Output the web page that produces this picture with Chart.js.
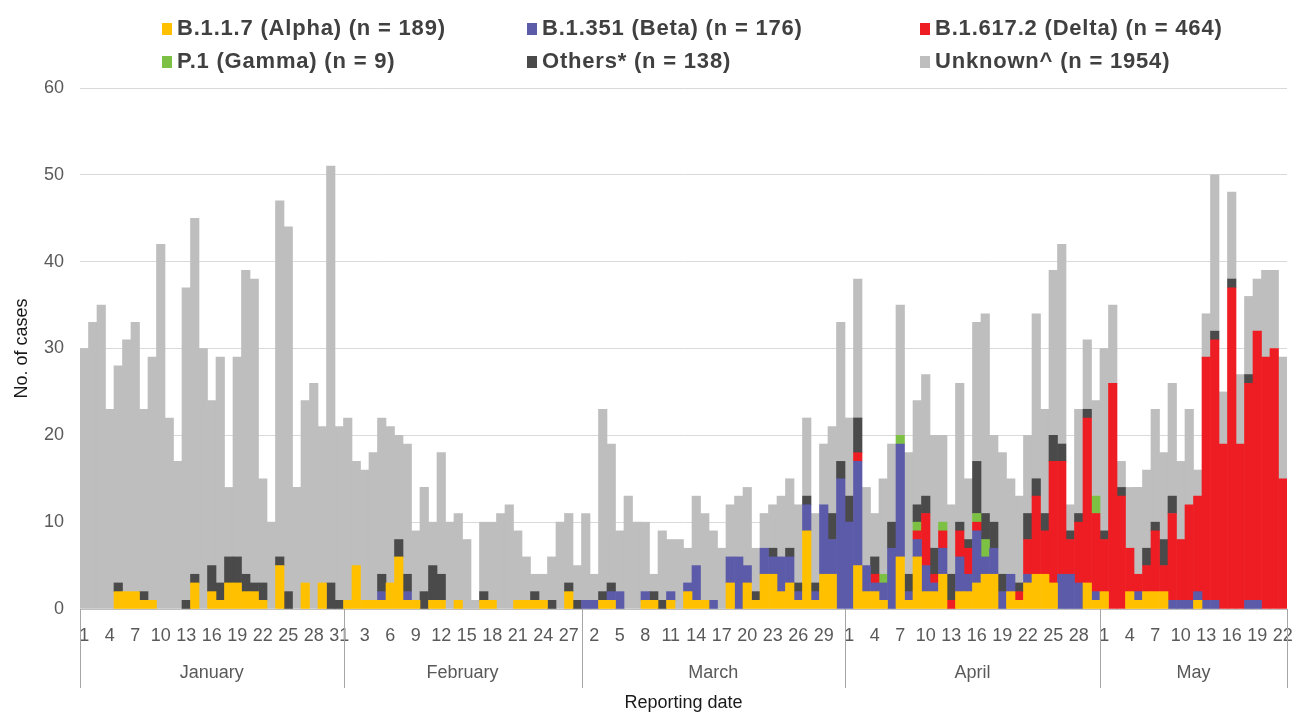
<!DOCTYPE html>
<html>
<head>
<meta charset="utf-8">
<script src="https://cdn.jsdelivr.net/npm/chart.js@4.4.1/dist/chart.umd.min.js"></script>
<style>
  html, body { margin: 0; padding: 0; background: #fff; }
  #wrap { position: relative; width: 1297px; height: 713px; }
  .lg { position: absolute; font: bold 22px "Liberation Sans", Arial, sans-serif; letter-spacing: 0.8px; color: #404040; white-space: nowrap; line-height: 24px; }
  .lg i { display: inline-block; width: 10px; height: 12px; margin-right: 5px; vertical-align: 0px; }
</style>
</head>
<body>
<div id="wrap">
  <canvas id="chart"></canvas>
  <div id="legend"></div>
</div>
<script>
'use strict';

// reporting months and their number of days shown
var MONTHS = ['January', 'February', 'March', 'April', 'May'];
var MONTH_DAYS = [31, 28, 31, 30, 22];

var SERIES = ['B.1.1.7 (Alpha) (n = 189)', 'B.1.351 (Beta) (n = 176)', 'B.1.617.2 (Delta) (n = 464)',
              'P.1 (Gamma) (n = 9)', 'Others* (n = 138)', 'Unknown^ (n = 1954)'];
var COLORS = ['#FFC000', '#5B5BAA', '#EE1D23', '#7CC143', '#4A4A4A', '#BEBEBE'];

// daily counts, one line per month (Jan..May)
var alpha = [
  0,0,0,0,2,2,2,1,1,0,0,0,0,3,0,2,1,3,3,2,2,1,0,5,0,0,3,0,3,0,0,
  1,5,1,1,1,3,6,1,1,0,1,1,0,1,0,0,1,1,0,0,1,1,1,1,0,0,2,0,
  0,0,1,1,0,0,0,1,1,0,1,0,2,1,1,0,0,3,0,3,1,4,4,2,3,1,9,1,4,4,0,
  0,5,2,2,1,0,6,1,6,2,2,4,0,2,2,3,4,4,0,2,1,3,4,4,3,0,0,0,3,1,
  2,0,0,2,1,2,2,2,0,0,0,1,0,0,0,0,0,0,0,0,0,0
];
var beta = [
  0,0,0,0,0,0,0,0,0,0,0,0,0,0,0,0,0,0,0,0,0,0,0,0,0,0,0,0,0,0,0,
  0,0,0,0,1,0,0,1,0,0,0,0,0,0,0,0,0,0,0,0,0,0,0,0,0,0,0,0,
  1,1,0,1,2,0,0,1,0,0,1,0,1,4,0,1,0,3,6,2,0,3,2,4,3,1,3,1,8,4,15,
  10,12,3,1,2,7,13,1,2,3,1,3,0,4,2,6,2,3,2,2,0,1,0,0,0,4,4,3,0,1,
  0,0,0,0,1,0,0,0,1,1,1,1,1,1,0,0,0,1,1,0,0,0
];
var delta = [
  0,0,0,0,0,0,0,0,0,0,0,0,0,0,0,0,0,0,0,0,0,0,0,0,0,0,0,0,0,0,0,
  0,0,0,0,0,0,0,0,0,0,0,0,0,0,0,0,0,0,0,0,0,0,0,0,0,0,0,0,
  0,0,0,0,0,0,0,0,0,0,0,0,0,0,0,0,0,0,0,0,0,0,0,0,0,0,0,0,0,0,0,
  0,1,0,1,0,0,0,0,1,6,1,2,1,3,3,1,0,0,0,0,1,4,9,5,14,13,4,7,19,9,
  6,26,13,5,2,3,7,3,10,7,11,11,28,30,19,37,19,25,31,29,30,15
];
var gamma = [
  0,0,0,0,0,0,0,0,0,0,0,0,0,0,0,0,0,0,0,0,0,0,0,0,0,0,0,0,0,0,0,
  0,0,0,0,0,0,0,0,0,0,0,0,0,0,0,0,0,0,0,0,0,0,0,0,0,0,0,0,
  0,0,0,0,0,0,0,0,0,0,0,0,0,0,0,0,0,0,0,0,0,0,0,0,0,0,0,0,0,0,0,
  0,0,0,0,1,0,1,0,1,0,0,1,0,0,0,1,2,0,0,0,0,0,0,0,0,0,0,0,0,2,
  0,0,0,0,0,0,0,0,0,0,0,0,0,0,0,0,0,0,0,0,0,0
];
var others = [
  0,0,0,0,1,0,0,1,0,0,0,0,1,1,0,3,2,3,3,2,1,2,0,1,2,0,0,0,0,3,1,
  0,0,0,0,2,0,2,2,0,2,4,3,0,0,0,0,1,0,0,0,0,0,1,0,1,0,1,1,
  0,0,1,1,0,0,0,0,1,1,0,0,0,0,0,0,0,0,0,0,1,0,1,0,1,1,1,1,0,3,2,
  3,4,0,2,0,3,0,2,2,2,3,0,3,1,1,6,3,3,2,0,1,3,2,2,3,2,1,1,1,0,
  1,0,1,0,0,2,1,3,2,0,0,0,0,1,0,1,0,1,0,0,0,0
];
var unknown = [
  30,33,35,23,25,29,31,21,28,42,22,17,36,41,30,19,26,8,23,35,35,12,10,41,42,14,21,26,18,48,20,
  21,12,15,17,18,18,12,15,8,12,5,14,10,10,8,1,8,9,11,12,8,5,2,3,5,10,8,4,
  10,3,21,16,7,13,10,8,2,8,6,8,4,8,10,8,7,6,7,9,5,4,5,7,8,9,9,8,7,10,16,
  9,16,9,5,11,9,15,14,12,14,13,10,8,16,7,16,23,10,14,11,10,9,19,12,19,23,3,12,8,11,
  21,9,3,7,10,9,13,10,13,9,11,3,5,18,6,10,8,9,6,10,9,14
];

var FONT = '"Liberation Sans", Arial, sans-serif';
var TICK_COLOR = '#595959';

// day-of-month labels for the category axis
var days = [];
MONTH_DAYS.forEach(function (n) {
  for (var d = 1; d <= n; d++) days.push(String(d));
});

// html legend, three entries per row
(function buildLegend() {
  var lefts = [162, 527, 920];
  var tops = [16, 49];
  var box = document.getElementById('legend');
  SERIES.forEach(function (name, i) {
    var el = document.createElement('div');
    el.className = 'lg';
    el.style.left = lefts[i % 3] + 'px';
    el.style.top = tops[Math.floor(i / 3)] + 'px';
    el.innerHTML = '<i style="background:' + COLORS[i] + '"></i>' + name;
    box.appendChild(el);
  });
})();

// month names, separators and axis titles under the day labels
var monthAxis = {
  id: 'monthAxis',
  afterDraw: function (chart) {
    var ctx = chart.ctx, x = chart.scales.x, area = chart.chartArea;
    var w = x.getPixelForValue(1) - x.getPixelForValue(0);
    var start = 0;
    ctx.save();
    ctx.strokeStyle = '#A6A6A6';
    ctx.lineWidth = 1;
    ctx.fillStyle = TICK_COLOR;
    ctx.font = '18px ' + FONT;
    ctx.textAlign = 'center';
    ctx.textBaseline = 'middle';
    var bx = Math.round(x.getPixelForValue(0) - w / 2) + 0.5;
    ctx.beginPath(); ctx.moveTo(bx, area.bottom); ctx.lineTo(bx, area.bottom + 79); ctx.stroke();
    MONTHS.forEach(function (m, k) {
      var end = start + MONTH_DAYS[k];
      var x0 = x.getPixelForValue(start) - w / 2;
      var x1 = x.getPixelForValue(end - 1) + w / 2;
      var lx = Math.round(x1) + 0.5;
      ctx.beginPath(); ctx.moveTo(lx, area.bottom); ctx.lineTo(lx, area.bottom + 79); ctx.stroke();
      ctx.fillText(m, (x0 + x1) / 2, area.bottom + 64);
      start = end;
    });
    ctx.fillStyle = '#1A1A1A';
    ctx.fillText('Reporting date', (area.left + area.right) / 2, area.bottom + 94);
    ctx.translate(22, (area.top + area.bottom) / 2);
    ctx.rotate(-Math.PI / 2);
    ctx.fillText('No. of cases', 0, 0);
    ctx.restore();
  }
};

var seriesData = [alpha, beta, delta, gamma, others, unknown];

new Chart(document.getElementById('chart'), {
  type: 'bar',
  data: {
    labels: days,
    datasets: seriesData.map(function (d, i) {
      return {
        label: SERIES[i],
        // zero counts become null so no hairline is drawn at the baseline
        data: d.map(function (v) { return v || null; }),
        backgroundColor: COLORS[i],
        borderWidth: 0,
        barPercentage: 1,
        categoryPercentage: 1
      };
    })
  },
  options: {
    responsive: true,
    maintainAspectRatio: false,
    animation: false,
    layout: { padding: { top: 88, right: 10, left: 0, bottom: 0 } },
    plugins: { legend: { display: false }, tooltip: { enabled: false } },
    scales: {
      x: {
        stacked: true,
        grid: { display: false, drawTicks: false },
        border: { color: '#BFBFBF' },
        afterFit: function (s) { s.height = 104; s.paddingLeft = 0; s.paddingRight = 0; },
        ticks: {
          autoSkip: false, maxRotation: 0, minRotation: 0, padding: 16,
          color: TICK_COLOR, font: { family: FONT, size: 18 },
          callback: function (v, i) { return i % 3 === 0 ? days[i] : ''; }
        }
      },
      y: {
        stacked: true,
        min: 0, max: 60,
        grid: { color: '#D9D9D9', drawTicks: false },
        border: { display: false },
        afterFit: function (s) { s.width = 80; s.paddingTop = 0; s.paddingBottom = 0; },
        ticks: { stepSize: 10, padding: 16, color: TICK_COLOR, font: { family: FONT, size: 18 } }
      }
    }
  },
  plugins: [monthAxis]
});
</script>
</body>
</html>
